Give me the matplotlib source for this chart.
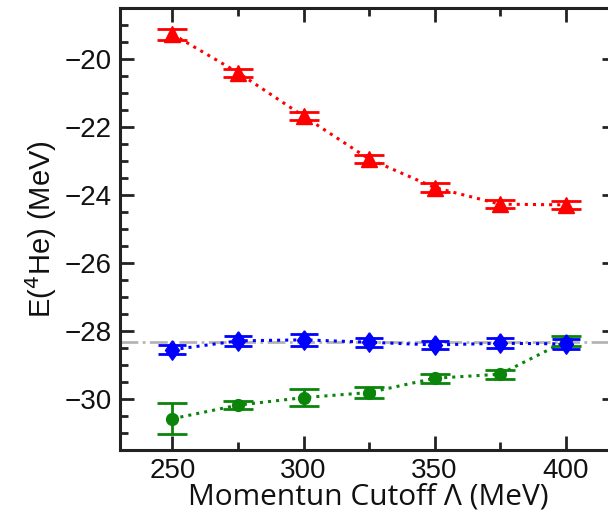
import matplotlib
matplotlib.use("Agg")
import matplotlib.pyplot as plt
from matplotlib.ticker import MultipleLocator

# cutoff values (MeV)
cutoff = [250, 275, 300, 325, 350, 375, 400]

# red triangles
e_red = [-19.27, -20.40, -21.68, -22.94, -23.78, -24.27, -24.29]
err_red = [0.16, 0.12, 0.12, 0.12, 0.12, 0.12, 0.12]

# blue diamonds
e_blue = [-28.55, -28.29, -28.26, -28.33, -28.41, -28.36, -28.38]
err_blue = [0.14, 0.14, 0.17, 0.13, 0.13, 0.14, 0.15]

# green circles
e_green = [-30.58, -30.18, -29.96, -29.81, -29.39, -29.27, -28.30]
err_green = [0.45, 0.12, 0.24, 0.17, 0.13, 0.13, 0.15]

ref_line = -28.32

plt.rcParams['font.family'] = ['Liberation Sans', 'DejaVu Sans']

fig = plt.figure(figsize=(6.08, 5.15), dpi=100)
ax = fig.add_axes([120 / 608, 65 / 515, 496 / 608, 442 / 515])

ax.axhline(ref_line, color='#b4b4b4', lw=2, ls='-.', zorder=1)

diamond = [(0, 1), (0.72, 0), (0, -1), (-0.72, 0), (0, 1)]

ax.errorbar(cutoff, e_red, yerr=err_red, color='#ff0000', ls=':', lw=2.2,
            marker='^', ms=12, elinewidth=2, capsize=11, capthick=2, zorder=3)
ax.errorbar(cutoff, e_blue, yerr=err_blue, color='#0000ff', ls=':', lw=2.2,
            marker=diamond, ms=14, elinewidth=2, capsize=10, capthick=2, zorder=4)
ax.errorbar(cutoff, e_green, yerr=err_green, color='#0a850a', ls=':', lw=2.2,
            marker='o', ms=8.5, elinewidth=2, capsize=11, capthick=2, zorder=3)

ax.set_xlim(230, 419.2)
ax.set_ylim(-31.5, -18.5)
ax.xaxis.set_major_locator(MultipleLocator(50))
ax.xaxis.set_minor_locator(MultipleLocator(25))
ax.yaxis.set_major_locator(MultipleLocator(2))
ax.yaxis.set_minor_locator(MultipleLocator(0.5))

ax.tick_params(which='both', direction='in', top=True, right=True,
               width=2, color='#222222')
ax.tick_params(which='major', length=10, labelsize=20, pad=6, labelcolor='#111111')
ax.tick_params(which='minor', length=6)
for s in ax.spines.values():
    s.set_linewidth(2.2)
    s.set_color('#222222')

ax.set_xlabel('Momentun Cutoff Λ (MeV)', fontsize=21.5, family=['Open Sans', 'DejaVu Sans'],
              color='#111111', labelpad=-1)
ax.set_ylabel('E($^4$He) (MeV)', fontsize=21, color='#111111', labelpad=4)

fig.savefig('out.png', dpi=100)
